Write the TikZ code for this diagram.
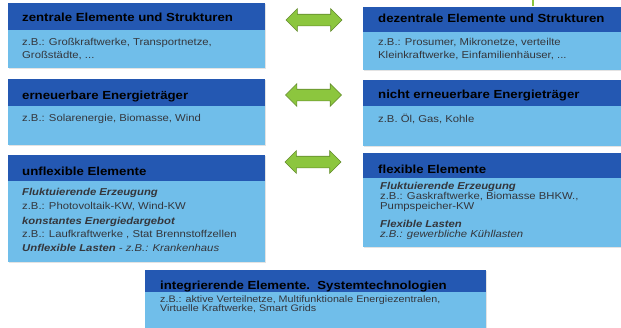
\documentclass[tikz,border=0pt]{standalone}
\usepackage{fontspec}
\setmainfont{Liberation Sans}[FakeStretch=1.13]
\usetikzlibrary{shapes.arrows,shadows}

\definecolor{hdblue}{RGB}{36,88,178}
\definecolor{bdblue}{RGB}{112,190,234}
\definecolor{arrgreen}{RGB}{140,198,62}
\definecolor{arrdark}{RGB}{98,138,44}
\definecolor{bodytext}{RGB}{52,54,60}

\tikzset{
  boxshade/.style={drop shadow={shadow xshift=0.8pt, shadow yshift=-1.2pt, opacity=0.18, fill=black!60}},
  headbox/.style={fill=hdblue, draw=none, anchor=north west, inner sep=0pt, boxshade},
  bodybox/.style={fill=bdblue, draw=none, anchor=north west, inner sep=0pt, boxshade},
  headtext/.style={anchor=base west, inner sep=0pt, text=black,
    font=\fontsize{11.7}{13}\selectfont\bfseries},
  bodytxt/.style={anchor=north west, inner sep=0pt, align=left, text=bodytext,
    font=\fontsize{10}{13}\selectfont},
  tighttxt/.style={bodytxt, font=\fontsize{10}{10.3}\selectfont},
  dblarrow/.style={double arrow, fill=arrgreen, draw=arrdark, line width=0.6pt,
    minimum height=56pt, inner xsep=0pt, inner ysep=5.5pt,
    double arrow head extend=5.5pt},
}

\begin{document}
\begin{tikzpicture}[x=1pt, y=-1pt]
  \useasboundingbox (0,0) rectangle (621,327);
  \fill[white] (0,0) rectangle (621,327);

  % left column
  \node[headbox, minimum width=257pt, minimum height=27pt] (zentH) at (8,3) {};
  \node[bodybox, minimum width=257pt, minimum height=38pt] (zentB) at (8,30) {};
  \node[headtext] (zentT) at (22,21.7) {zentrale Elemente und Strukturen};
  \node[bodytxt] (zentX) at (22,37.7) {z.B.: Großkraftwerke, Transportnetze,\\Großstädte, ...};

  \node[headbox, minimum width=257pt, minimum height=27pt] (ernH) at (8,79) {};
  \node[bodybox, minimum width=257pt, minimum height=39pt] (ernB) at (8,106) {};
  \node[headtext] (ernT) at (22,99) {erneuerbare Energieträger};
  \node[bodytxt] (ernX) at (22,113.7) {z.B.: Solarenergie, Biomasse, Wind};

  \node[headbox, minimum width=257pt, minimum height=26pt] (unflH) at (8,155) {};
  \node[bodybox, minimum width=257pt, minimum height=81pt] (unflB) at (8,181) {};
  \node[headtext] (unflT) at (22,175) {unflexible Elemente};
  \node[bodytxt, font=\fontsize{10}{13.5}\selectfont] (unflX) at (22,188.4)
    {\textbf{\textit{Fluktuierende Erzeugung}}\\
     z.B.: Photovoltaik-KW, Wind-KW\\[1.5pt]
     \textbf{\textit{konstantes Energiedargebot}}\\
     z.B.: Laufkraftwerke , Stat Brennstoffzellen\\
     \textbf{\textit{Unflexible Lasten}} \textit{- z.B.: Krankenhaus}};

  % right column
  \node[headbox, minimum width=262pt, minimum height=25pt] (dezH) at (363,7) {};
  \node[bodybox, minimum width=262pt, minimum height=38pt] (dezB) at (363,32) {};
  \node[headtext] (dezT) at (378,22.5) {dezentrale Elemente und Strukturen};
  \node[bodytxt] (dezX) at (378,37.7) {z.B.: Prosumer, Mikronetze, verteilte\\Kleinkraftwerke, Einfamilienhäuser, ...};

  \node[headbox, minimum width=262pt, minimum height=26pt] (nernH) at (363,80) {};
  \node[bodybox, minimum width=262pt, minimum height=40pt] (nernB) at (363,106) {};
  \node[headtext] (nernT) at (378,98) {nicht erneuerbare Energieträger};
  \node[bodytxt] (nernX) at (378,113.7) {z.B. Öl, Gas, Kohle};

  \node[headbox, minimum width=262pt, minimum height=25pt] (flexH) at (363,153) {};
  \node[bodybox, minimum width=262pt, minimum height=69pt] (flexB) at (363,178) {};
  \node[headtext] (flexT) at (378,173) {flexible Elemente};
  \node[tighttxt] (flexX) at (380,181.7)
    {\textbf{\textit{Fluktuierende Erzeugung}}\\
     z.B.: Gaskraftwerke, Biomasse BHKW.,\\
     Pumpspeicher-KW\\[7.5pt]
     \textbf{\textit{Flexible Lasten}}\\
     \textit{z.B.: gewerbliche Kühllasten}};

  % bottom box
  \node[headbox, minimum width=341pt, minimum height=22pt] (intH) at (145,270) {};
  \node[bodybox, minimum width=341pt, minimum height=40pt] (intB) at (145,292) {};
  \node[headtext] (intT) at (160,289) {integrierende Elemente.\ \ Systemtechnologien};
  \node[tighttxt, font=\fontsize{9.5}{9.5}\selectfont] (intX) at (160,295)
    {z.B.: aktive Verteilnetze, Multifunktionale Energiezentralen,\\
     Virtuelle Kraftwerke, Smart Grids};

  % double arrows between the columns
  \node[dblarrow] (arrA) at (314,20) {};
  \node[dblarrow] (arrB) at (313.5,95) {};
  \node[dblarrow] (arrC) at (313,162) {};

  % small green stroke at the top edge
  \coordinate (tickTop) at (533,0);
  \coordinate (tickEnd) at (533,6);
  \draw[arrgreen, line width=1.2pt] (tickTop) -- (tickEnd);
\end{tikzpicture}
\end{document}
